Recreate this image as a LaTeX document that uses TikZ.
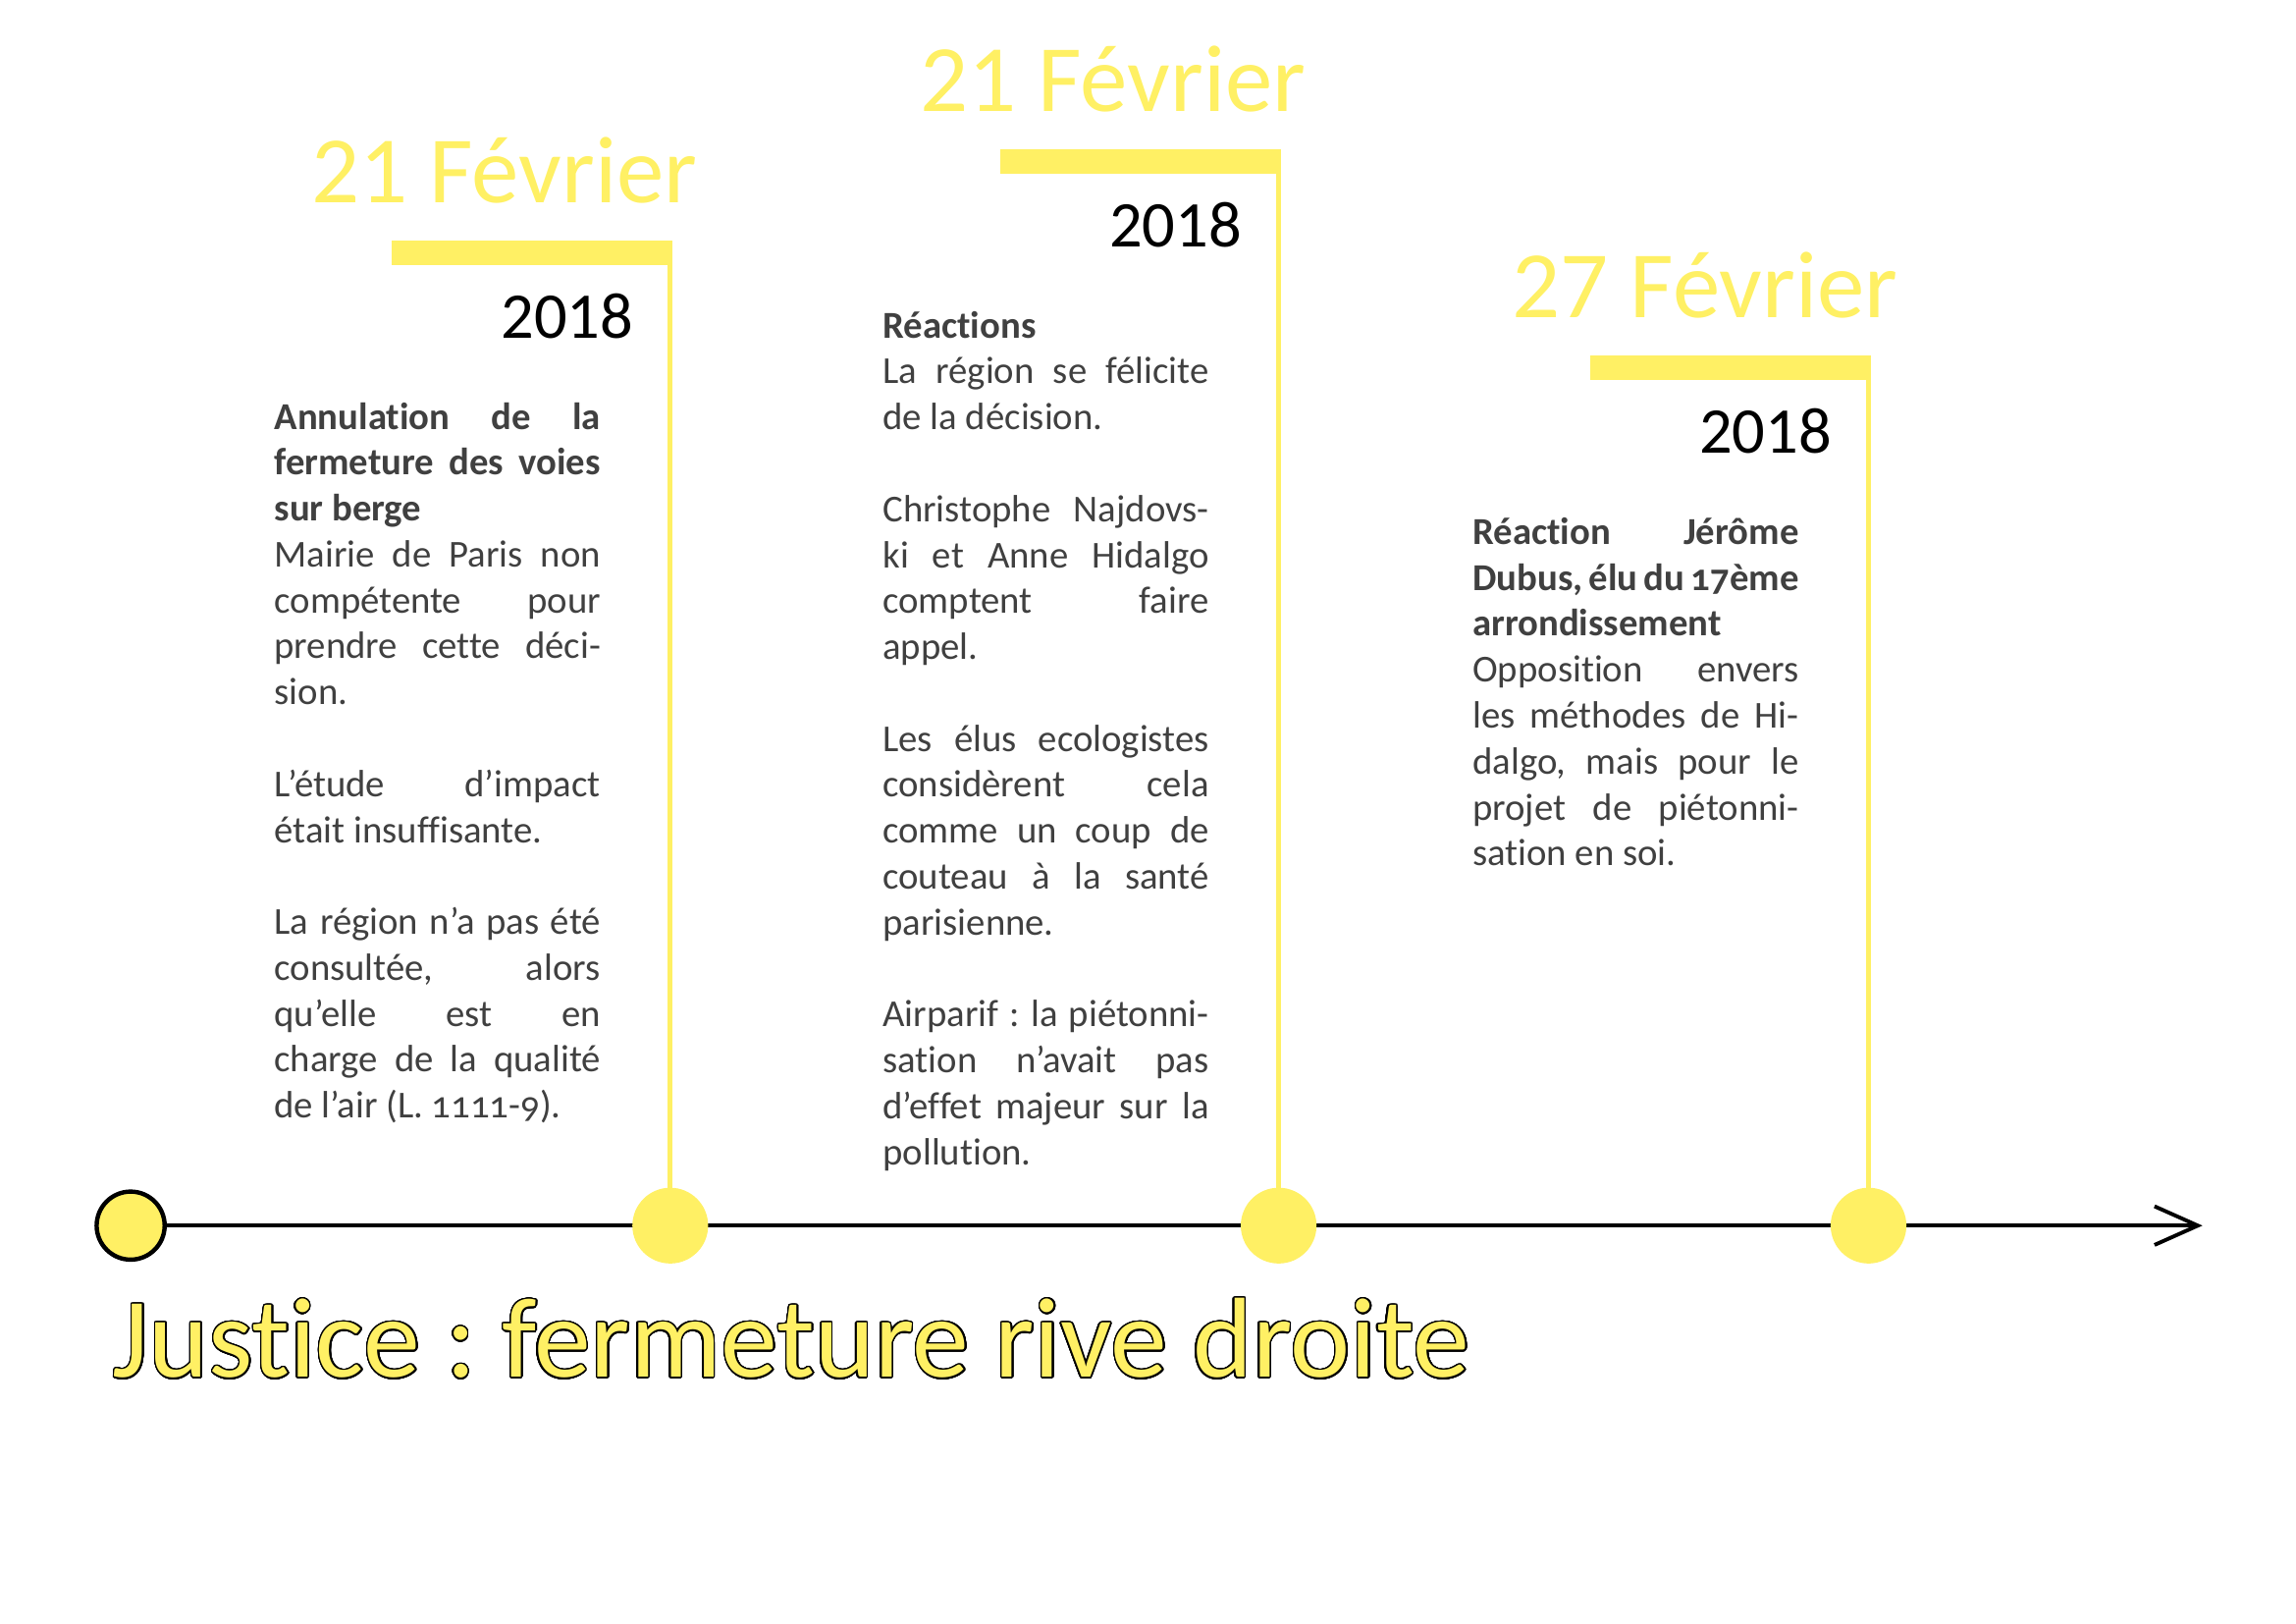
\documentclass[tikz,border=0pt]{standalone}
\usepackage{fontspec}
\setmainfont{Carlito}[Numbers=OldStyle, Ligatures=NoCommon]
\newfontfamily\datefont{Carlito}[Numbers=Lining]
\usepackage{xcolor}
\usepackage{contour}
\contourlength{0.55pt}
\contournumber{32}
\usetikzlibrary{arrows.meta, positioning}
\definecolor{timeyellow}{HTML}{FFF064}
\definecolor{bodygrey}{HTML}{404040}
\frenchspacing
\hyphenpenalty=10000
\tolerance=10000

\begin{document}
\begin{tikzpicture}[
    every node/.style={inner sep=0pt, outer sep=0pt},
    origin/.style={circle, draw=black, line width=1.6pt, fill=timeyellow, minimum size=0.88cm},
    milestone/.style={circle, fill=timeyellow, minimum size=0.98cm},
    bar/.style={rectangle, fill=timeyellow, minimum width=3.63cm, minimum height=0.32cm},
    stem/.style={draw=timeyellow, line width=1.8pt},
    axis/.style={draw=black, line width=1.4pt, -{Straight Barb[length=5.6mm, width=5mm]}},
    date/.style={anchor=base east, text=timeyellow, font=\datefont\fontsize{35}{42}\selectfont},
    year/.style={anchor=base east, text=black, font=\datefont\fontsize{24}{29}\selectfont},
    entry/.style={anchor=base west, text width=4.22cm, align=justify, text=bodygrey,
        font=\fontsize{14}{16.9}\selectfont}
]
\useasboundingbox (0,0) rectangle (29.7,21);

% time axis
\node[origin] (start) at (1.69, 5.15) {};
\coordinate (end) at (28.49, 5.15);
\draw[axis] (start.east) -- (end);

\node[milestone] (ev1) at (8.67, 5.15) {};
\node[milestone] (ev2) at (16.54, 5.15) {};
\node[milestone] (ev3) at (24.17, 5.15) {};

% flags
\node[bar] (bar1) at (6.885, 17.73) {};
\node[bar] (bar2) at (14.755, 18.91) {};
\node[bar] (bar3) at (22.385, 16.24) {};
\draw[stem] (bar1.south -| ev1) -- (ev1);
\draw[stem] (bar2.south -| ev2) -- (ev2);
\draw[stem] (bar3.south -| ev3) -- (ev3);

\node[date] (date1) at (9.02, 18.38) {21 Février};
\node[date] (date2) at (16.89, 19.56) {21 Février};
\node[date] (date3) at (24.55, 16.89) {27 Février};
\node[year] (year1) at (8.19, 16.63) {2018};
\node[year] (year2) at (16.06, 17.81) {2018};
\node[year] (year3) at (23.69, 15.14) {2018};

% texts
\node[entry] (text1) at (3.55, 15.45) {\textbf{Annulation de la\linebreak fermeture des voies\linebreak sur berge}\\
Mairie de Paris non\linebreak compétente pour\linebreak prendre cette déci-\linebreak sion.\\[\baselineskip]
L’étude d’impact\linebreak était insuffisante.\\[\baselineskip]
La région n’a pas été\linebreak consultée, alors\linebreak qu’elle est en\linebreak charge de la qualité\linebreak de l’air (L. 1111-9).};

\node[entry] (text2) at (11.42, 16.63) {\textbf{Réactions}\\
La région se félicite\linebreak de la décision.\\[\baselineskip]
Christophe Najdovs-\linebreak ki et Anne Hidalgo\linebreak comptent faire\linebreak appel.\\[\baselineskip]
Les élus ecologistes\linebreak considèrent cela\linebreak comme un coup de\linebreak couteau à la santé\linebreak parisienne.\\[\baselineskip]
Airparif : la piétonni-\linebreak sation n’avait pas\linebreak d’effet majeur sur la\linebreak pollution.};

\node[entry] (text3) at (19.05, 13.96) {\textbf{Réaction Jérôme\linebreak Dubus, élu du 17ème\linebreak arrondissement}\\
Opposition envers\linebreak les méthodes de Hi-\linebreak dalgo, mais pour le\linebreak projet de piétonni-\linebreak sation en soi.};

% title
\node[anchor=base west, text=timeyellow, font=\fontsize{41.8}{50}\selectfont] (title) at (1.46, 3.19)
    {\contour{black}{Justice : fermeture rive droite}};
\end{tikzpicture}
\end{document}
